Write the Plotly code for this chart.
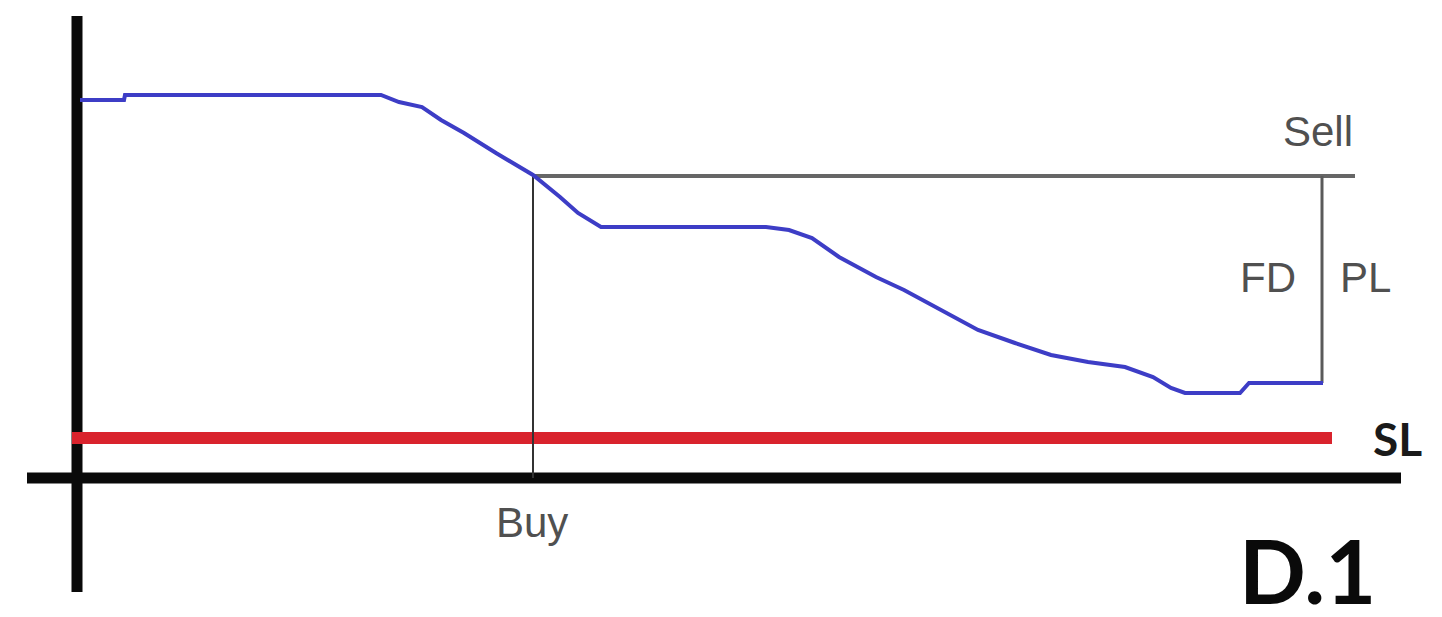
import plotly.graph_objects as go

# ---- data (schematic units: time along x, price along y) ----
time = [3, 47, 48, 304, 322, 345, 364, 387, 419, 456, 483, 501, 524, 689, 712,
        735, 762, 799, 827, 859, 901, 938, 974, 1011, 1048, 1076, 1094, 1108,
        1163, 1172, 1246]
price = [378, 378, 383, 383, 376, 371, 358, 345, 325, 303, 281, 265, 251, 251,
         248, 240, 221, 201, 188, 171, 148, 135, 123, 116, 111, 101, 90, 85, 85,
         95, 95]

buy_time = 456
sell_level = 302
sell_end_time = 1278
exit_time = 1245
exit_price = 95
sl_level = 40
sl_span = [-5, 1255]
x_axis_span = [-50, 1324]
y_axis_span = [-114, 462]

labels = ["Sell", "FD", "PL", "SL", "Buy", "D.1"]
label_x = [1241, 1191, 1288, 1320, 455, 1230]
label_y = [347, 201, 201, 40, -44, -92]

fig = go.Figure()

# axes drawn as lines
fig.add_trace(go.Scatter(x=[0, 0], y=y_axis_span, mode="lines",
                         line=dict(color="#0a0a0a", width=11), hoverinfo="skip"))
fig.add_trace(go.Scatter(x=x_axis_span, y=[0, 0], mode="lines",
                         line=dict(color="#0a0a0a", width=11), hoverinfo="skip"))

# stop-loss level
fig.add_trace(go.Scatter(x=sl_span, y=[sl_level, sl_level], mode="lines",
                         line=dict(color="#d9232d", width=12), hoverinfo="skip"))

# buy vertical
fig.add_trace(go.Scatter(x=[buy_time, buy_time], y=[0, sell_level], mode="lines",
                         line=dict(color="#333333", width=2), hoverinfo="skip"))
# sell horizontal
fig.add_trace(go.Scatter(x=[buy_time, sell_end_time], y=[sell_level, sell_level],
                         mode="lines", line=dict(color="#666666", width=4),
                         hoverinfo="skip"))
# PL vertical
fig.add_trace(go.Scatter(x=[exit_time, exit_time], y=[exit_price, sell_level],
                         mode="lines", line=dict(color="#5a5a5a", width=3),
                         hoverinfo="skip"))

# price line
fig.add_trace(go.Scatter(x=time, y=price, mode="lines",
                         line=dict(color="#3d3dc6", width=4), hoverinfo="skip"))

gray_font = dict(family="Liberation Sans, Arial", size=42, color="#505050")
styles = {
    "Sell": gray_font, "FD": gray_font, "PL": gray_font, "Buy": gray_font,
    "SL": dict(family="Lato, Carlito, sans-serif", size=46, color="#1a1a1a"),
    "D.1": dict(family="Lato, Carlito, sans-serif", size=88, color="#0a0a0a"),
}
for t, x, y in zip(labels, label_x, label_y):
    txt = f"<b>{t}</b>" if t in ("D.1", "SL") else t
    fig.add_annotation(x=x, y=y, text=txt, showarrow=False, font=styles[t],
                       xanchor="center", yanchor="middle")

# page body has an 8px margin: figure covers 1434x609 starting at (8, 8)
fig.update_layout(
    width=1434, height=609,
    margin=dict(l=0, r=0, t=0, b=0),
    paper_bgcolor="white", plot_bgcolor="white",
    showlegend=False,
    xaxis=dict(range=[-69, 1365], visible=False, fixedrange=True),
    yaxis=dict(range=[-139, 470], visible=False, fixedrange=True),
)

fig.write_html("out.html", config={"displayModeBar": False})
